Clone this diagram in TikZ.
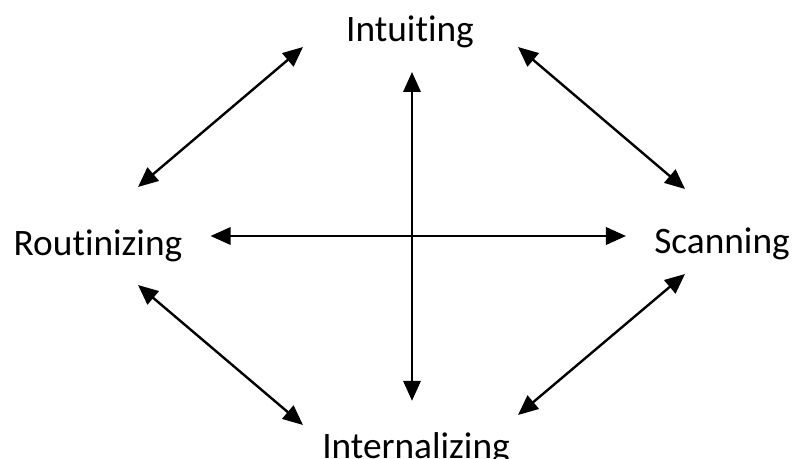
\documentclass[tikz,border=0pt]{standalone}
\usepackage{fontspec}
\setmainfont{Carlito}
\usetikzlibrary{arrows.meta,positioning}
% keep t and i apart (no ligature)
\newcommand{\tI}{t\kern0pt i}

\begin{document}
\begin{tikzpicture}[
x=0.75pt,y=-0.75pt,
mode/.style={font=\fontsize{28}{32}\selectfont,inner sep=0pt,anchor=base},
arr/.style={{Triangle[length=15pt,width=13pt]}-{Triangle[length=15pt,width=13pt]},line width=1.8pt}
]
\useasboundingbox (0,0) rectangle (795,459);
% four modes
\node[mode] (int) at (410,42) {Intui\tI ng};
\node[mode] (rou) at (98,256) {Rou\tI nizing};
\node[mode] (sca) at (722,254) {Scanning};
\node[mode] (inl) at (416,458) {Internalizing};
% ends of the diagonal arrows
\coordinate (tl1) at (303,47);
\coordinate (tl2) at (138,187);
\coordinate (tr1) at (518,47);
\coordinate (tr2) at (685,189);
\coordinate (bl1) at (138,285);
\coordinate (bl2) at (303,425);
\coordinate (br1) at (685,274);
\coordinate (br2) at (518,415);
\draw[arr] (tl1) -- (tl2);
\draw[arr] (tr1) -- (tr2);
\draw[arr] (bl1) -- (bl2);
\draw[arr] (br1) -- (br2);
% cross
\draw[arr,shorten <=28*0.75pt,shorten >=28*0.75pt] (rou.east |- 0,236) -- (sca.west |- 0,236);
\draw[arr] ([yshift=-30*0.75pt]int.base -| 412,0) -- ([yshift=31*0.75pt]inl.north -| 412,0);
\end{tikzpicture}
\end{document}
